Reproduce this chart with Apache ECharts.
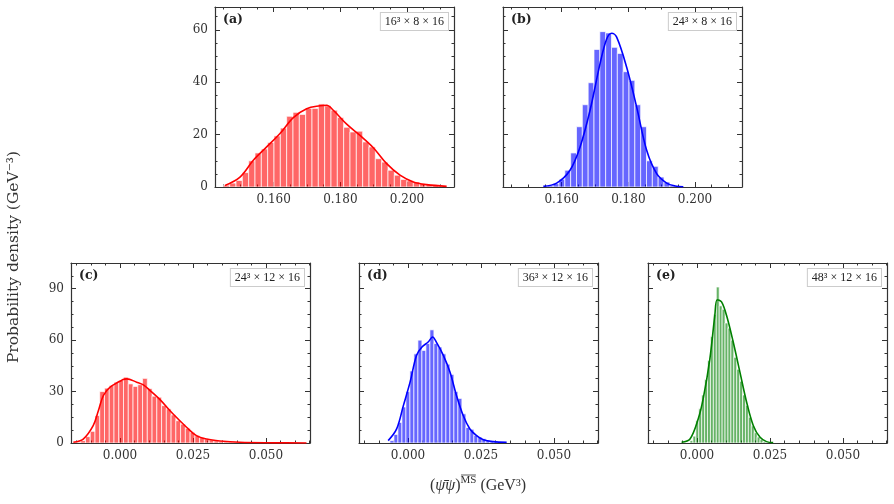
<!DOCTYPE html>
<html><head><meta charset="utf-8">
<script src="https://cdn.jsdelivr.net/npm/echarts@6/dist/echarts.min.js"></script>
<style>html,body{margin:0;padding:0;background:#fff}#c{width:894px;height:504px}</style>
</head><body><div id="c"></div>
<script>
// ---------- data ----------
// Panel (a) 16^3 x 8 x 16
const histA_start = 0.1449, histA_width = 0.0019;
const histA_counts = [0.7,1.5,2.5,5.5,10,13,14.5,17,19.5,22.5,27,28.5,27.7,30,30,31.7,31,29.3,26.5,22.8,21,21.3,17.2,15.3,10.8,9.5,6.4,4.5,2.9,2.4,1.9,1.4,1,0.6,0.4];
const kdeA_x = [0.1454,0.1499,0.1539,0.1579,0.1619,0.1659,0.1699,0.1739,0.1759,0.1779,0.1819,0.1859,0.1899,0.1939,0.1979,0.2019,0.2059,0.2119];
const kdeA_y = [0.6,3.8,10.2,15.3,20.4,26.5,29.9,31.0,31.2,29.3,24.0,19.7,15.0,8.9,4.5,1.9,0.9,0.25];
// Panel (b) 24^3 x 8 x 16
const histB_start = 0.1557, histB_width = 0.00175;
const histB_counts = [0.6,1.3,3,6.4,13,23,31.4,39.8,52.5,59.3,58.8,53.3,51,44,40.7,31.4,23,10,7.9,3.8,1.9,0.6];
const kdeB_x = [0.1545,0.1585,0.1625,0.1655,0.1685,0.1715,0.1735,0.1750,0.1765,0.1795,0.1825,0.1855,0.1885,0.1915,0.1940,0.1965];
const kdeB_y = [0.25,1.5,6.4,15.2,29.2,47.0,56.5,58.7,57.2,45.7,30.5,14.0,5.1,1.5,0.4,0.1];
// Panel (c) 24^3 x 12 x 16
const histC_start = -0.0151, histC_width = 0.00163;
const histC_counts = [0.4,1.4,3.7,6.8,16,30,32,33.5,35.5,36.5,38.4,34.5,33,34,37.7,31.8,27.3,26.7,21.8,19.9,16.4,13,11,8.6,6.2,4.3,3.3,2.3,1.8,1.2,0.8,0.6,0.5,0.4,0.3,0.3,0.2,0.2,0.2,0.1,0.1,0.1,0.1,0.1,0.1,0.1,0.1];
const kdeC_x = [-0.0160,-0.0126,-0.0092,-0.0074,-0.0057,-0.0034,0.0011,0.0023,0.0057,0.0080,0.0103,0.0137,0.0182,0.0228,0.0262,0.0297,0.0342,0.0411,0.0525,0.0639];
const kdeC_y = [0.4,2.3,10.1,18.9,27.7,32.6,37.0,37.4,35.5,33.9,30.6,25.3,16.9,9.2,4.3,2.3,1.2,0.4,0.1,0.0];
// Panel (d) 36^3 x 12 x 16
const histD_start = -0.0062, histD_width = 0.00137;
const histD_counts = [1.4,5,12,21,30,42,52,60,54,58,66,58,56,52,46,40,30,26,17,9,8,4.5,3.5,2.5,1.5,1,0.8,0.5,0.3];
const kdeD_x = [-0.0068,-0.0039,-0.0016,0.0007,0.0029,0.0047,0.0069,0.0084,0.0098,0.0121,0.0144,0.0166,0.0189,0.0212,0.0235,0.0258,0.0292,0.0338];
const kdeD_y = [1.4,8.2,21.8,35.5,51.1,55.9,58.9,61.8,58.5,51.1,41.3,27.7,16.0,8.2,4.3,1.9,0.8,0.4];
// Panel (e) 48^3 x 12 x 16
const histE_start = -0.0024, histE_width = 0.001;
const histE_counts = [1.4,4,13,20,28,37,48,62,75,91,80,78,70,67,60,50,43,36,28,22,15,10,6,3.5,2,0.8];
const kdeE_x = [-0.0053,-0.0024,0.0004,0.0021,0.0044,0.0061,0.0069,0.0084,0.0101,0.0124,0.0147,0.0170,0.0193,0.0216,0.0238,0.0261];
const kdeE_y = [0.4,2.3,14.0,25.7,49.1,74.5,83.6,82.3,74.5,58.9,41.3,23.8,10.1,3.3,0.8,0.2];

// tick labels
const xTicksTop = [0.160, 0.180, 0.200];
const xTicksBottom = [0.000, 0.025, 0.050];
const yTicksTop = [0, 20, 40, 60];
const yTicksBottom = [0, 30, 60, 90];
const panelLetters = ['(a)', '(b)', '(c)', '(d)', '(e)'];
const latticeLabels = ['16³ × 8 × 16', '24³ × 8 × 16', '24³ × 12 × 16', '36³ × 12 × 16', '48³ × 12 × 16'];

// ---------- layout & style ----------
const FRAME = '#333';
const SERIF = 'DejaVu Serif';
const panels = [
  {g:[215,7,239,180], xr:[0.1424,0.2141], yr:[0,68.7], xt:xTicksTop, xm:0.005, yt:yTicksTop, ym:5, yl:true, xd:3,
   hs:histA_start, hw:histA_width, hc:histA_counts, kx:kdeA_x, ky:kdeA_y, fill:'rgba(255,0,0,0.6)', line:'#ff0000'},
  {g:[503,7,239,180], xr:[0.1424,0.2141], yr:[0,68.7], xt:xTicksTop, xm:0.005, yt:yTicksTop, ym:5, yl:false, xd:3,
   hs:histB_start, hw:histB_width, hc:histB_counts, kx:kdeB_x, ky:kdeB_y, fill:'rgba(0,0,255,0.6)', line:'#0000ff'},
  {g:[71,263,239,180], xr:[-0.0168,0.0651], yr:[0,105], xt:xTicksBottom, xm:0.005, yt:yTicksBottom, ym:7.5, yl:true, xd:3,
   hs:histC_start, hw:histC_width, hc:histC_counts, kx:kdeC_x, ky:kdeC_y, fill:'rgba(255,0,0,0.6)', line:'#ff0000'},
  {g:[359,263,239,180], xr:[-0.0168,0.0651], yr:[0,105], xt:xTicksBottom, xm:0.005, yt:yTicksBottom, ym:7.5, yl:false, xd:3,
   hs:histD_start, hw:histD_width, hc:histD_counts, kx:kdeD_x, ky:kdeD_y, fill:'rgba(0,0,255,0.6)', line:'#0000ff'},
  {g:[648,263,239,180], xr:[-0.0168,0.0651], yr:[0,105], xt:xTicksBottom, xm:0.005, yt:yTicksBottom, ym:7.5, yl:false, xd:3,
   hs:histE_start, hw:histE_width, hc:histE_counts, kx:kdeE_x, ky:kdeE_y, fill:'rgba(0,128,0,0.6)', line:'#008000'}
];

function minorVals(lo, hi, step) {
  const out = [];
  const k0 = Math.ceil(lo / step - 1e-9), k1 = Math.floor(hi / step + 1e-9);
  for (let k = k0; k <= k1; k++) out.push(+(k * step).toFixed(6));
  return out;
}

const grids = [], xAxes = [], yAxes = [], series = [], graphics = [];
panels.forEach((p, i) => {
  grids.push({left:p.g[0], top:p.g[1], width:p.g[2], height:p.g[3], containLabel:false});
  const xMin = minorVals(p.xr[0], p.xr[1], p.xm);
  const yMin = minorVals(p.yr[0], p.yr[1], p.ym);
  const base = (pos, vals, len, line) => ({
    gridIndex:i, type:'value', position:pos,
    axisLine:{show:line, onZero:false, lineStyle:{color:FRAME, width:1.2}},
    axisTick:{show:true, inside:true, length:len, customValues:vals, lineStyle:{color:FRAME, width:1}},
    splitLine:{show:false}, minorTick:{show:false},
    axisLabel:{show:false}
  });
  const xi = xAxes.length;
  [['bottom', p.xt, 5, true], ['bottom', xMin, 2.5, false], ['top', p.xt, 5, true], ['top', xMin, 2.5, false]].forEach((a, k) => {
    const ax = base(a[0], a[1], a[2], a[3]);
    ax.min = p.xr[0]; ax.max = p.xr[1];
    if (k === 0) ax.axisLabel = {show:true, customValues:p.xt, formatter:v => v.toFixed(p.xd), fontFamily:SERIF, fontSize:12, color:'#333', margin:7};
    xAxes.push(ax);
  });
  const yi = yAxes.length;
  [['left', p.yt, 5, true], ['left', yMin, 2.5, false], ['right', p.yt, 5, true], ['right', yMin, 2.5, false]].forEach((a, k) => {
    const ax = base(a[0], a[1], a[2], a[3]);
    ax.min = p.yr[0]; ax.max = p.yr[1];
    if (k === 0 && p.yl) ax.axisLabel = {show:true, customValues:p.yt, formatter:v => String(v), fontFamily:SERIF, fontSize:12, color:'#333', margin:7};
    yAxes.push(ax);
  });
  const bars = p.hc.map((c, j) => [p.hs + j * p.hw, p.hs + (j + 1) * p.hw, c]);
  series.push({
    type:'custom', xAxisIndex:xi, yAxisIndex:yi, data:bars, encode:{x:[0,1], y:2}, clip:true,
    renderItem:(params, api) => {
      const a = api.coord([api.value(0), api.value(2)]);
      const b = api.coord([api.value(1), 0]);
      return {type:'rect', shape:{x:a[0], y:a[1], width:b[0]-a[0], height:b[1]-a[1]},
              style:{fill:p.fill, stroke:'#ffffff', lineWidth:0.7}};
    }
  });
  series.push({
    type:'line', xAxisIndex:xi, yAxisIndex:yi, data:p.kx.map((x, j) => [x, p.ky[j]]),
    smooth:0.35, showSymbol:false, symbol:'none', lineStyle:{color:p.line, width:1.6}, z:5, clip:true
  });
  graphics.push({type:'text', x:p.g[0] + 8, y:p.g[1] + 13, style:{text:panelLetters[i], font:'bold 12.5px "DejaVu Serif"', fill:'#222', verticalAlign:'middle'}});
  graphics.push({type:'text', x:p.g[0] + p.g[2] - 6, y:p.g[1] + 6,
    style:{text:latticeLabels[i], font:'12px "Liberation Serif"', fill:'#222', align:'right', verticalAlign:'top',
           backgroundColor:'#fff', borderColor:'#cccccc', borderWidth:1, padding:[3,4,2,4]}});
});

graphics.push({type:'text', x:14, y:257, rotation:Math.PI/2,
  style:{text:'Probability density (GeV⁻³)', font:'15.5px "DejaVu Serif"', fill:'#333', align:'center', verticalAlign:'middle'}});

// x-axis title, laid out piece by piece (superscript MS with overline)
(function () {
  const ctx = document.createElement('canvas').getContext('2d');
  const pieces = [
    {t:'(', f:'16px "Liberation Serif"', dy:0},
    {t:'ψ̄ψ', f:'italic 16px "Liberation Serif"', dy:0},
    {t:')', f:'16px "Liberation Serif"', dy:0},
    {t:'MS', f:'11px "Liberation Serif"', dy:-8, bar:true},
    {t:' (GeV³)', f:'16px "Liberation Serif"', dy:0}
  ];
  let total = 0;
  pieces.forEach(pc => { ctx.font = pc.f; pc.w = ctx.measureText(pc.t).width; total += pc.w; });
  let x = 478 - total / 2;
  const baseY = 494;
  pieces.forEach(pc => {
    graphics.push({type:'text', x:x, y:baseY + pc.dy, style:{text:pc.t, font:pc.f, fill:'#333', verticalAlign:'bottom'}});
    if (pc.bar) graphics.push({type:'line', shape:{x1:x + 0.5, y1:baseY + pc.dy - 11, x2:x + pc.w - 0.5, y2:baseY + pc.dy - 11}, style:{stroke:'#333', lineWidth:0.8}});
    x += pc.w;
  });
})();

const chart = echarts.init(document.getElementById('c'), null, {renderer:'canvas'});
chart.setOption({animation:false, backgroundColor:'#fff', grid:grids, xAxis:xAxes, yAxis:yAxes, series:series, graphic:graphics});
</script>
</body></html>
